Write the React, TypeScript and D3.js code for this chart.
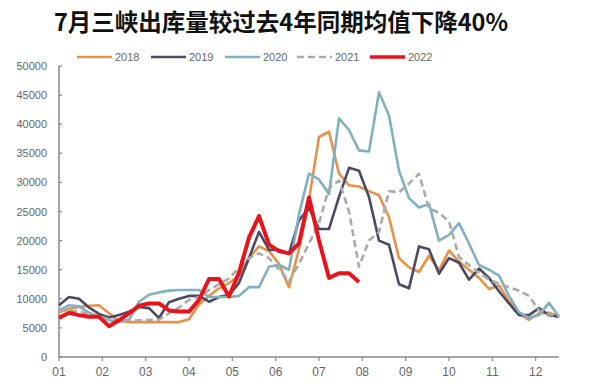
import React from "react";
import * as d3 from "d3";

const title = "7月三峡出库量较过去4年同期均值下降40%";
const monthLabels = ["01", "02", "03", "04", "05", "06", "07", "08", "09", "10", "11", "12"];
const yTicks = [0, 5000, 10000, 15000, 20000, 25000, 30000, 35000, 40000, 45000, 50000];

// weekly values (week index 0..50)
const s2018 = [7700, 8300, 8600, 8800, 8900, 7500, 6200, 6000, 6000, 6000, 6000, 6000, 6000, 6500, 9000, 10500, 11800, 12700, 14000, 17000, 19000, 18200, 16000, 12000, 18500, 27000, 37800, 38700, 31500, 29500, 29300, 28500, 27800, 24000, 17000, 15400, 14600, 17400, 14900, 18300, 16400, 15000, 13600, 11700, 12300, 9600, 7400, 6400, 7500, 7600, 7000];
const s2019 = [8900, 10300, 10000, 8500, 7400, 6800, 7200, 7800, 8600, 8400, 6700, 9400, 10000, 10500, 10500, 9500, 10300, 10700, 12700, 17000, 21500, 18400, 18400, 17800, 23500, 25600, 22000, 22000, 27500, 32500, 32000, 27500, 20000, 19300, 12500, 11800, 19000, 18500, 14300, 17000, 16200, 13300, 15200, 13600, 11300, 9200, 7200, 7200, 8400, 7200, 6900];
const s2020 = [8000, 8900, 8700, 7600, 6900, 6300, 6000, 6400, 9500, 10700, 11100, 11400, 11500, 11500, 11500, 10300, 10300, 10300, 10500, 12000, 12000, 15500, 15800, 15000, 24500, 31500, 30500, 28000, 41000, 39000, 35500, 35300, 45500, 41500, 32000, 27300, 25700, 26300, 20000, 21000, 23000, 19500, 15800, 15000, 14000, 10500, 7700, 6700, 7200, 9300, 6900];
const s2021 = [8000, 8000, 7800, 7400, 7000, 6500, 6300, 6200, 6300, 6400, 6400, 7500, 8500, 9800, 10300, 11500, 12500, 13500, 15300, 17000, 17800, 17000, 15000, 13000, 16000, 19500, 23000, 29000, 30300, 25000, 15500, 20000, 21500, 28500, 28300, 29800, 31500, 25500, 24800, 23300, 17200, 15800, 14500, 13300, 12600, 12000, 11400, 10500, 8000, 7300, 7000];
const s2022 = [6700, 7600, 7200, 6900, 6900, 5300, 6300, 7500, 8800, 9200, 9200, 8000, 7800, 7800, 9800, 13400, 13400, 10400, 14500, 20500, 24200, 19300, 18200, 17800, 19500, 27400, 20000, 13600, 14400, 14400, 12900];

const seriesNames = ["2018", "2019", "2020", "2021", "2022"];
const seriesData = [s2018, s2019, s2020, s2021, s2022];
const seriesColors = ["#E8914B", "#4A4A62", "#80B1C0", "#AAAAAA", "#E8131B"];
const seriesWidths = [2.6, 2.6, 2.6, 2.6, 4];
const seriesDash = [null, null, null, "7,4", null];

export default function App() {
  const W = 600, H = 384;
  const x = d3.scaleLinear().domain([0, 50]).range([59, 559]);
  const y = d3.scaleLinear().domain([0, 50000]).range([357, 66]);
  const line = d3.line<number>().x((_, i) => x(i)).y((d) => y(d));
  const weeksPerMonth = 52 / 12;
  const legendX = [77, 151, 225, 297, 370];
  const order = [0, 1, 2, 3, 4];

  return (
    <svg width={W} height={H} style={{ position: "absolute", left: 0, top: 0, background: "#fff" }}>
      <text x={281} y={31} textAnchor="middle" fontFamily="'Noto Sans CJK SC', 'Noto Sans', sans-serif" fontWeight="bold" fontSize={23.5} fill="#111">
        {title}
      </text>
      {seriesNames.map((n, k) => (
        <g key={n}>
          <line x1={legendX[k]} x2={legendX[k] + 35} y1={57} y2={57} stroke={seriesColors[k]} strokeWidth={k === 4 ? 3.5 : 2.6} strokeDasharray={seriesDash[k] || undefined} />
          <text x={legendX[k] + 38} y={61} fontFamily="'Liberation Sans', Arial, sans-serif" fontSize={11} fill="#666">{n}</text>
        </g>
      ))}
      {/* y axis */}
      <line x1={59} x2={59} y1={66} y2={357} stroke="#888" strokeWidth={1.5} />
      {yTicks.map((t) => (
        <g key={t}>
          <line x1={59} x2={62} y1={y(t)} y2={y(t)} stroke="#888" strokeWidth={1.2} />
          <text x={47} y={y(t) + 4} textAnchor="end" fontFamily="'Liberation Sans', Arial, sans-serif" fontSize={11} fill="#666">{t}</text>
        </g>
      ))}
      {/* x axis */}
      <line x1={59} x2={559} y1={357} y2={357} stroke="#888" strokeWidth={1.5} />
      {monthLabels.map((m, i) => (
        <g key={m}>
          <line x1={x(i * weeksPerMonth)} x2={x(i * weeksPerMonth)} y1={357} y2={361} stroke="#888" strokeWidth={1.2} />
          <text x={x(i * weeksPerMonth)} y={376} textAnchor="middle" fontFamily="'Liberation Sans', Arial, sans-serif" fontSize={12} fill="#666">{m}</text>
        </g>
      ))}
      {order.map((k) => (
        <path key={k} d={line(seriesData[k]) || ""} fill="none" stroke={seriesColors[k]} strokeWidth={seriesWidths[k]} strokeDasharray={seriesDash[k] || undefined} strokeLinejoin="round" />
      ))}
    </svg>
  );
}
